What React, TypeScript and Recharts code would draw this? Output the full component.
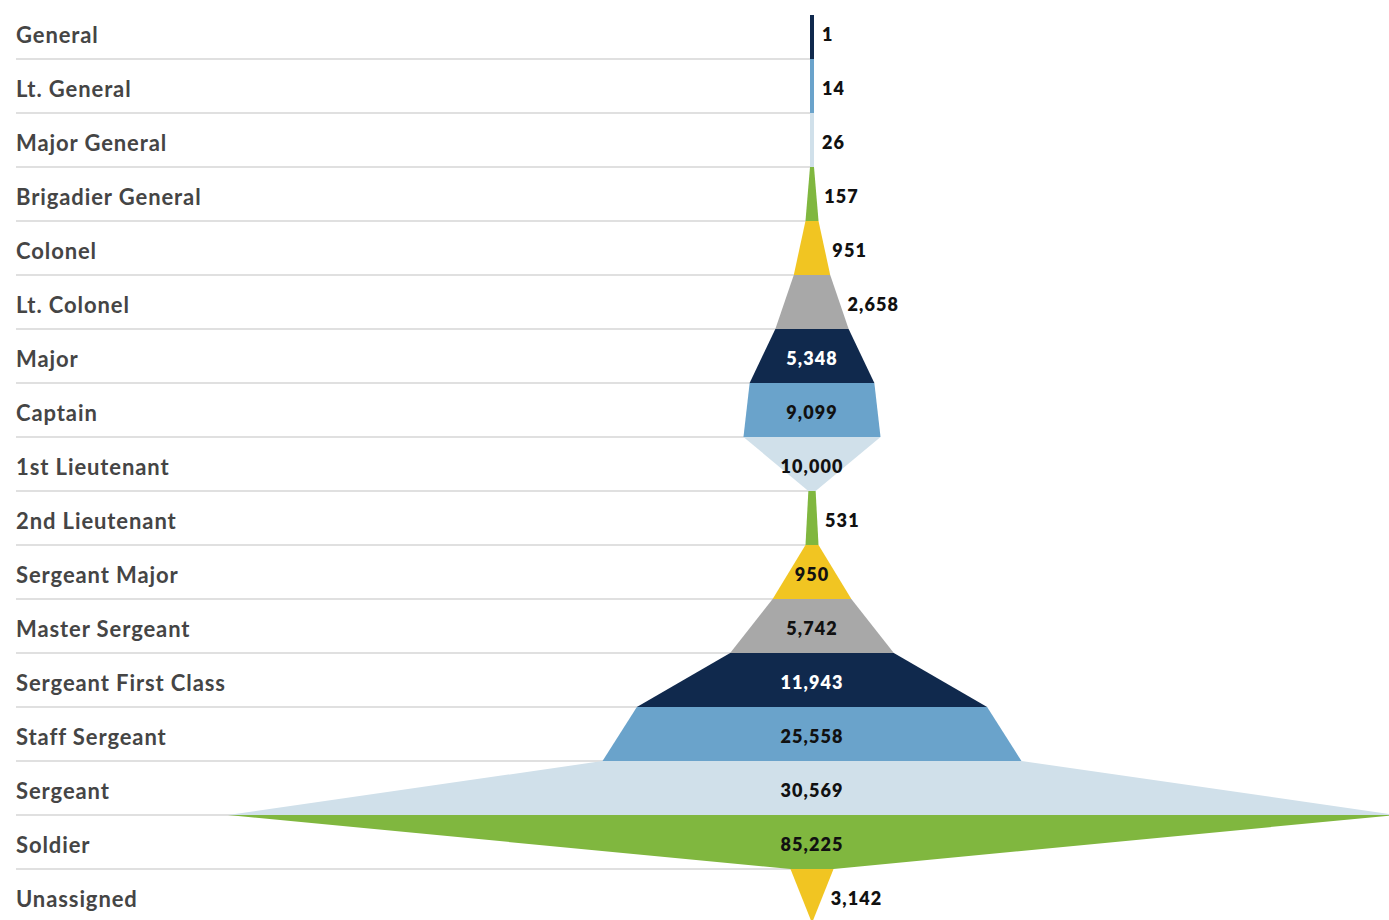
import { BarChart, Bar, XAxis, YAxis } from "recharts";

const ranks = [
  "General", "Lt. General", "Major General", "Brigadier General", "Colonel", "Lt. Colonel",
  "Major", "Captain", "1st Lieutenant", "2nd Lieutenant", "Sergeant Major", "Master Sergeant",
  "Sergeant First Class", "Staff Sergeant", "Sergeant", "Soldier", "Unassigned",
];
const counts = [1, 14, 26, 157, 951, 2658, 5348, 9099, 10000, 531, 950, 5742, 11943, 25558, 30569, 85225, 3142];
const palette = ["#10294d", "#6aa3cb", "#d0e0ea", "#80b73f", "#f1c522", "#a8a8a8"];

const rows = ranks.map((name, i) => ({
  name,
  value: counts[i],
  next: i < counts.length - 1 ? counts[i + 1] : 0,
  color: palette[i % palette.length],
}));
const maxCount = Math.max(...counts);

const MIN_W = 4;
const fmt = (v: number) => v.toLocaleString("en-US");

// each row is a trapezoid: own value on top, next value at the bottom
function Funnel(props: any) {
  const { x, y, width, height, payload, index } = props;
  const k = width / payload.value;
  const cx = x + width / 2;
  const last = index === rows.length - 1;
  const top = Math.max(payload.value * k, MIN_W);
  const bot = last ? 0 : Math.max(payload.next * k, MIN_W);
  const y0 = index === 0 ? y + 10 : y;
  const y1 = y + height;
  const mid = (top + bot) / 2;
  const label = fmt(payload.value);
  const inside = mid > label.length * 11.5;
  const dark = payload.color === palette[0];
  return (
    <g>
      <line x1={16} x2={cx} y1={y1} y2={y1} stroke="#d6d6d6" strokeWidth={1.5} />
      <polygon
        points={`${cx - top / 2},${y0} ${cx + top / 2},${y0} ${cx + bot / 2},${y1} ${cx - bot / 2},${y1}`}
        fill={payload.color}
      />
      <text
        x={inside ? cx : cx + mid / 2 + 8}
        y={y + height / 2 + 9}
        textAnchor={inside ? "middle" : "start"}
        fill={inside && dark ? "#ffffff" : "#111111"}
        fontSize={18}
        fontWeight={800}
        letterSpacing={1.1}
        fontFamily="Lato, sans-serif"
      >
        {label}
      </text>
    </g>
  );
}

const RankTick = ({ y, payload }: any) => (
  <text x={16} y={y + 11} fill="#454545" fontSize={22} fontWeight={700} letterSpacing={0.9} fontFamily="Lato, sans-serif">
    {payload.value}
  </text>
);

export default function App() {
  return (
    <div style={{ position: "absolute", left: 0, top: 0, width: 1389, height: 920, overflow: "hidden", background: "#fff" }}>
      <BarChart
        layout="vertical"
        width={1396}
        height={923}
        data={rows}
        margin={{ top: 5, right: 0, bottom: 0, left: 16 }}
        barCategoryGap={0}
      >
        <XAxis type="number" hide domain={[-maxCount / 2, maxCount / 2]} />
        <YAxis
          type="category"
          dataKey="name"
          width={212}
          axisLine={false}
          tickLine={false}
          interval={0}
          tick={RankTick}
        />
        <Bar dataKey={(d: any) => [-d.value / 2, d.value / 2]} shape={Funnel} isAnimationActive={false} />
      </BarChart>
    </div>
  );
}
